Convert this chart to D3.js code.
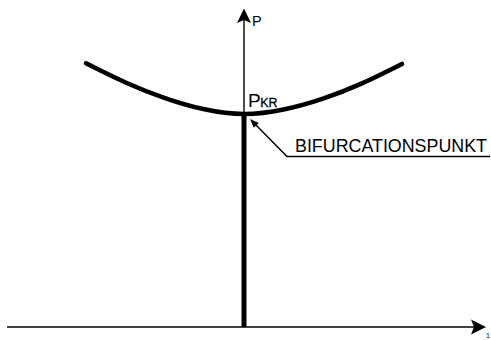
<!DOCTYPE html>
<html>
<head>
<meta charset="utf-8">
<script src="https://cdn.jsdelivr.net/npm/d3@7"></script>
<style>
  html, body { margin: 0; padding: 0; background: #fff; }
  svg { display: block; }
  text { font-family: "Liberation Sans", Arial, sans-serif; fill: #000; }
</style>
</head>
<body>
<svg id="chart" width="491" height="340"></svg>
<script>
// Post-buckling load path: deflection w vs. load P (P normalised to P_KR = 1)
const deflection = [-1.0, -0.75, -0.5, -0.25, 0, 0.25, 0.5, 0.75, 1.0];
const load       = [1.238, 1.148, 1.075, 1.022, 1.0, 1.021, 1.072, 1.145, 1.235];

// Fundamental (unbuckled) path: w = 0 from P = 0 up to P_KR
const fundamentalW = [0, 0];
const fundamentalP = [0, 1.0];

// Critical point and labels
const criticalPoint = { w: 0, P: 1.0 };
const axisLabels = { y: "P", x: "1" };
const criticalLabel = { main: "P", sub: "KR" };
const noteLabel = "BIFURCATIONSPUNKT";

const svg = d3.select("#chart");

const x = d3.scaleLinear().domain([-1.5, 1.5]).range([7, 481]);
const y = d3.scaleLinear().domain([0, 1.5]).range([327, 7.5]);

const x0 = x(0), y0 = y(0);

// horizontal axis
svg.append("line")
  .attr("x1", x(-1.5)).attr("y1", y0)
  .attr("x2", 476).attr("y2", y0)
  .attr("stroke", "#000").attr("stroke-width", 1.6);
svg.append("path")
  .attr("d", `M${486},${y0} L${471},${y0 - 7.5} L${474},${y0} L${471},${y0 + 7.5} Z`)
  .attr("fill", "#000");
svg.append("text")
  .attr("x", 486).attr("y", 338)
  .attr("font-size", 7)
  .text(axisLabels.x);

// vertical axis
svg.append("line")
  .attr("x1", x0).attr("y1", y0)
  .attr("x2", x0).attr("y2", 18)
  .attr("stroke", "#000").attr("stroke-width", 1.4);
svg.append("path")
  .attr("d", `M${x0},${8.5} L${x0 - 7},${23} L${x0},${20} L${x0 + 7},${23} Z`)
  .attr("fill", "#000");
svg.append("text")
  .attr("x", 252).attr("y", 25.5)
  .attr("font-size", 14.5)
  .text(axisLabels.y);

// fundamental path (thick vertical)
const line = d3.line().x(d => x(d[0])).y(d => y(d[1]));
svg.append("path")
  .attr("d", line(d3.zip(fundamentalW, fundamentalP)))
  .attr("fill", "none")
  .attr("stroke", "#000")
  .attr("stroke-width", 5);

// post-buckling curve
const curve = d3.line()
  .x(d => x(d[0])).y(d => y(d[1]))
  .curve(d3.curveNatural);
svg.append("path")
  .attr("d", curve(d3.zip(deflection, load)))
  .attr("fill", "none")
  .attr("stroke", "#000")
  .attr("stroke-width", 4.5)
  .attr("stroke-linecap", "round");

// P_KR label
const cx = x(criticalPoint.w), cy = y(criticalPoint.P);
const pk = svg.append("text").attr("x", cx + 4).attr("y", cy - 7.5);
pk.append("tspan").attr("font-size", 19).text(criticalLabel.main);
pk.append("tspan").attr("font-size", 12.5).attr("dx", -0.5).attr("dy", 0.5)
  .attr("stroke", "#000").attr("stroke-width", 0.3).text(criticalLabel.sub);

// leader from note to the bifurcation point
const elbow = [287, 156.5];
svg.append("path")
  .attr("d", `M490,${elbow[1]} L${elbow[0]},${elbow[1]} L${cx + 10},${cy + 9}`)
  .attr("fill", "none")
  .attr("stroke", "#000")
  .attr("stroke-width", 1.5);
// small arrowhead at the point
const tip = [cx + 6, cy + 5];
const ang = Math.atan2(elbow[1] - tip[1], elbow[0] - tip[0]);
const ah = 9, aw = 3.5;
const bx = tip[0] + ah * Math.cos(ang), by = tip[1] + ah * Math.sin(ang);
svg.append("path")
  .attr("d", `M${tip[0]},${tip[1]} L${bx - aw * Math.sin(ang)},${by + aw * Math.cos(ang)} L${bx + aw * Math.sin(ang)},${by - aw * Math.cos(ang)} Z`)
  .attr("fill", "#000");

svg.append("text")
  .attr("x", 295).attr("y", 152)
  .attr("font-size", 18)
  .attr("textLength", 192)
  .attr("lengthAdjust", "spacingAndGlyphs")
  .text(noteLabel);
</script>
</body>
</html>
